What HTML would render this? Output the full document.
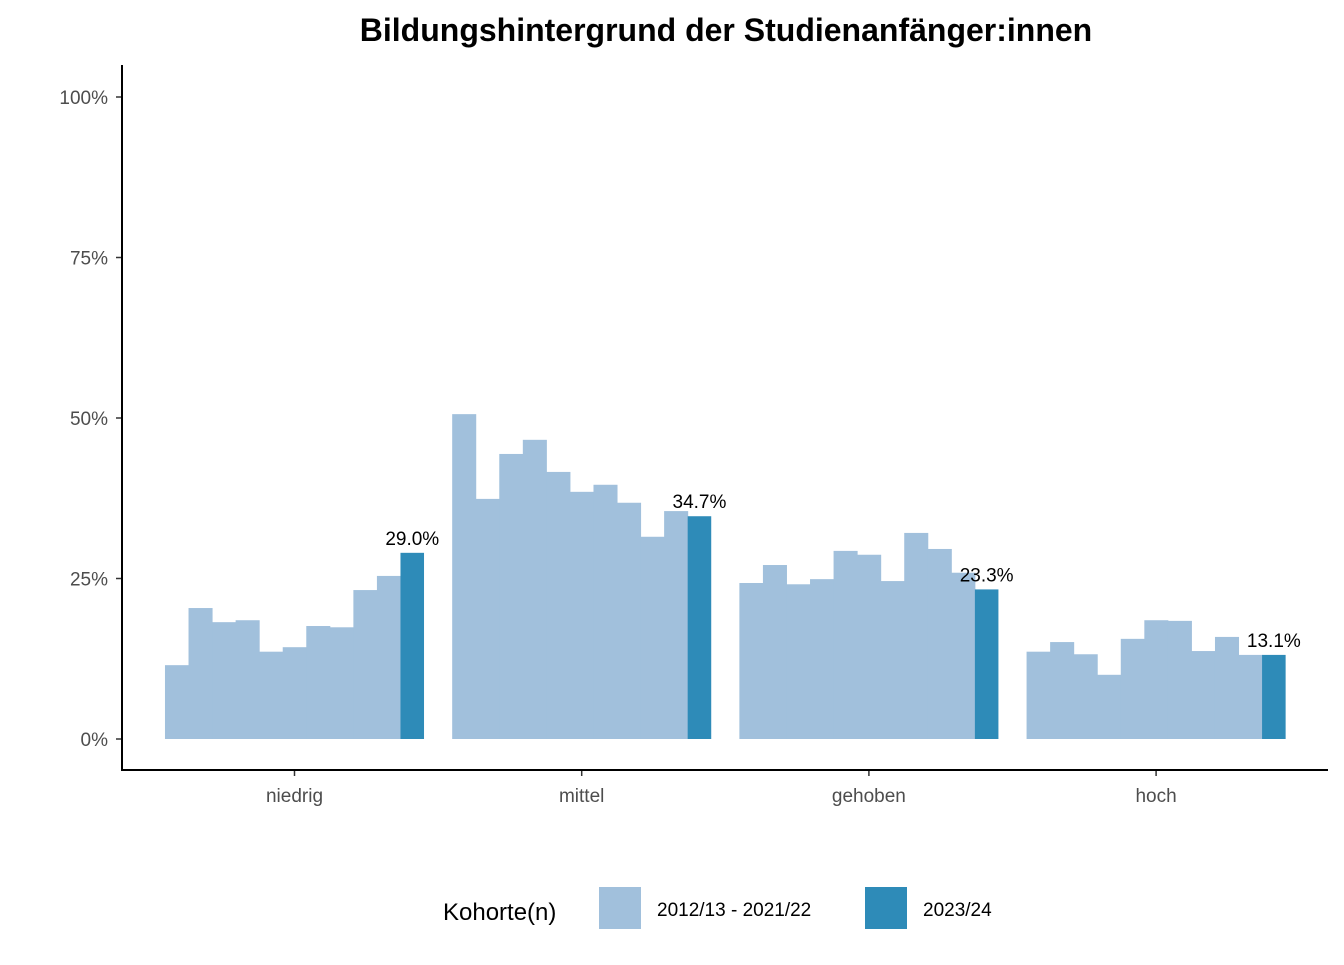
<!DOCTYPE html>
<html><head><meta charset="utf-8"><style>
body{margin:0;background:#fff;font-family:"Liberation Sans",Arial,sans-serif;}
</style></head><body>
<svg width="1344" height="960" xmlns="http://www.w3.org/2000/svg" font-family="Liberation Sans, Arial, sans-serif">
<rect width="1344" height="960" fill="#fff"/>
<text x="726" y="41" text-anchor="middle" font-size="32" font-weight="bold">Bildungshintergrund der Studienanfänger:innen</text>
<g id="plot"></g>
<g>
<text x="443" y="920" font-size="24" fill="#000">Kohorte(n)</text>
<rect x="599" y="887" width="42" height="42" fill="#a1c0dc"/>
<text x="657" y="916" font-size="19">2012/13 - 2021/22</text>
<rect x="865" y="887" width="42" height="42" fill="#2e8bb8"/>
<text x="923" y="916" font-size="19">2023/24</text>
</g>
</svg>
<script>
const categories=["niedrig","mittel","gehoben","hoch"];
const pastValues=[
[11.5,20.4,18.2,18.5,13.6,14.3,17.6,17.4,23.2,25.4],
[50.6,37.4,44.4,46.6,41.6,38.5,39.6,36.8,31.5,35.5],
[24.3,27.1,24.1,24.9,29.3,28.7,24.6,32.1,29.6,25.9],
[13.6,15.1,13.2,10.0,15.6,18.5,18.4,13.7,15.9,13.1]];
const currentValues=[29.0,34.7,23.3,13.1];
const yTicks=[0,25,50,75,100];
const NS="http://www.w3.org/2000/svg";
const g=document.getElementById('plot');
const y=v=>739-v*6.42;
const xc=i=>294.5+i*287.2;
const bw=23.55;
function mk(t,a){const e=document.createElementNS(NS,t);for(const k in a)e.setAttribute(k,a[k]);g.appendChild(e);return e;}
yTicks.forEach(t=>{
 const l=mk('line',{x1:116,x2:122,y1:y(t),y2:y(t),stroke:'#333','stroke-width':1.5});
 
 
 const tx=mk('text',{x:108,y:y(t)+7,'text-anchor':'end','font-size':19,fill:'#4d4d4d'});
 tx.textContent=t+'%';
 
 
});
categories.forEach((c,i)=>{
 const x0=xc(i)-5.5*bw;
 pastValues[i].forEach((v,j)=>{
  const r=mk('rect',{x:x0+j*bw,y:y(v),width:bw+0.5,height:y(0)-y(v),fill:'#a1c0dc'});
  
  
 });
 const v=currentValues[i];
 const r=mk('rect',{x:x0+10*bw,y:y(v),width:bw,height:y(0)-y(v),fill:'#2e8bb8'});
 
 
 const lb=mk('text',{x:x0+10.5*bw,y:y(v)-8,'text-anchor':'middle','font-size':19,fill:'#000'});
 lb.textContent=v.toFixed(1)+'%';
 
 
 const tk=mk('line',{x1:xc(i),x2:xc(i),y1:770,y2:776,stroke:'#333','stroke-width':1.5});
 
 
 const tl=mk('text',{x:xc(i),y:802,'text-anchor':'middle','font-size':19,fill:'#4d4d4d'});
 tl.textContent=c;
 
 
});
const ya=mk('line',{x1:122,x2:122,y1:65,y2:771,stroke:'#000','stroke-width':2});


const xa=mk('line',{x1:121,x2:1328,y1:770,y2:770,stroke:'#000','stroke-width':2});


</script>
</body></html>
